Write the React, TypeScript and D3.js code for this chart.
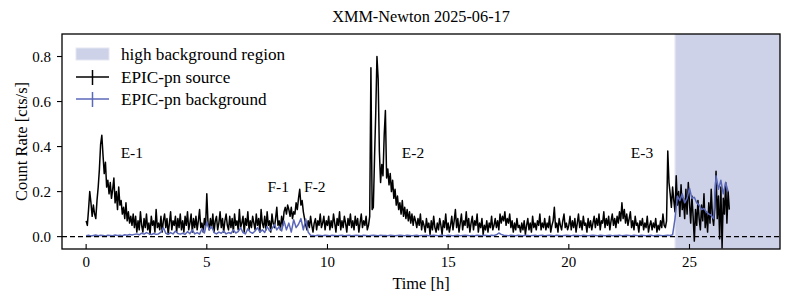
import React from 'react';
import * as d3 from 'd3';

// EPIC-pn source light curve, 0.05 h bins starting at t = 0 (one row per hour)
const sourceBinHours = 0.05;
const sourceRate = [
  0.07, 0.05, 0.12, 0.20, 0.15, 0.09, 0.14, 0.10, 0.08, 0.16, 0.22, 0.30, 0.41, 0.45, 0.36, 0.28, 0.33, 0.22, 0.25, 0.19,
  0.24, 0.17, 0.21, 0.26, 0.15, 0.20, 0.12, 0.22, 0.14, 0.16, 0.10, 0.13, 0.08, 0.15, 0.07, 0.11, 0.06, 0.09, 0.05, 0.10,
  0.04, 0.09, 0.02, 0.07, 0.03, 0.11, 0.05, 0.02, 0.08, 0.04, 0.10, 0.03, 0.06, 0.01, 0.09, 0.05, 0.07, 0.02, 0.12, 0.04,
  0.06, 0.03, 0.09, 0.02, 0.07, 0.10, 0.04, 0.08, 0.01, 0.06, 0.11, 0.03, 0.07, 0.05, 0.09, 0.02, 0.08, 0.04, 0.10, 0.03,
  0.07, 0.02, 0.09, 0.05, 0.11, 0.03, 0.06, 0.10, 0.02, 0.08, 0.04, 0.09, 0.03, 0.07, 0.12, 0.04, 0.06, 0.02, 0.08, 0.05,
  0.19, 0.06, 0.03, 0.08, 0.04, 0.10, 0.02, 0.07, 0.09, 0.03, 0.06, 0.11, 0.04, 0.08, 0.02, 0.07, 0.10, 0.05, 0.03, 0.09,
  0.04, 0.08, 0.02, 0.10, 0.05, 0.07, 0.03, 0.12, 0.04, 0.06, 0.09, 0.02, 0.08, 0.05, 0.11, 0.03, 0.07, 0.04, 0.09, 0.06,
  0.03, 0.10, 0.05, 0.08, 0.02, 0.12, 0.06, 0.04, 0.09, 0.03, 0.11, 0.05, 0.07, 0.02, 0.10, 0.06, 0.04, 0.08, 0.13, 0.05,
  0.07, 0.03, 0.09, 0.05, 0.11, 0.13, 0.10, 0.14, 0.12, 0.09, 0.13, 0.08, 0.11, 0.10, 0.15, 0.12, 0.17, 0.21, 0.14, 0.16,
  0.11, 0.08, 0.05, 0.03, 0.07, 0.04, 0.09, 0.05, 0.02, 0.06, 0.08, 0.03, 0.07, 0.05, 0.10, 0.04, 0.06, 0.09, 0.03, 0.07,
  0.05, 0.09, 0.03, 0.07, 0.04, 0.10, 0.06, 0.02, 0.08, 0.05, 0.11, 0.03, 0.07, 0.04, 0.09, 0.06, 0.02, 0.08, 0.05, 0.10,
  0.04, 0.07, 0.03, 0.09, 0.05, 0.08, 0.02, 0.06, 0.10, 0.04, 0.07, 0.05, 0.09, 0.03, 0.05, 0.09, 0.75, 0.12, 0.13, 0.35,
  0.55, 0.80, 0.70, 0.38, 0.24, 0.32, 0.27, 0.45, 0.56, 0.26, 0.30, 0.23, 0.28, 0.20, 0.25, 0.17, 0.21, 0.14, 0.18, 0.12,
  0.15, 0.10, 0.16, 0.09, 0.13, 0.08, 0.12, 0.07, 0.11, 0.06, 0.10, 0.05, 0.09, 0.07, 0.04, 0.08, 0.05, 0.10, 0.03, 0.07,
  0.05, 0.02, 0.08, 0.04, 0.06, 0.01, 0.07, 0.03, 0.09, 0.04, 0.02, 0.06, 0.03, 0.08, 0.05, 0.01, 0.07, 0.04, 0.10, 0.03,
  0.06, 0.02, 0.05, 0.09, 0.03, 0.07, 0.12, 0.04, 0.08, 0.02, 0.06, 0.10, 0.03, 0.07, 0.05, 0.11, 0.04, 0.08, 0.02, 0.06,
  0.09, 0.03, 0.07, 0.05, 0.10, 0.02, 0.06, 0.04, 0.08, 0.01, 0.05, 0.03, 0.07, 0.02, 0.06, 0.04, 0.09, 0.03, 0.05, 0.08,
  0.04, 0.07, 0.03, 0.10, 0.06, 0.09, 0.07, 0.11, 0.05, 0.08, 0.06, 0.10, 0.04, 0.07, 0.02, 0.06, 0.03, 0.08, 0.04, 0.05,
  0.02, 0.06, 0.03, 0.07, 0.01, 0.05, 0.08, 0.03, 0.06, 0.02, 0.09, 0.04, 0.06, 0.03, 0.07, 0.05, 0.10, 0.03, 0.06, 0.04,
  0.08, 0.03, 0.06, 0.04, 0.09, 0.02, 0.05, 0.07, 0.13, 0.04, 0.06, 0.02, 0.08, 0.05, 0.03, 0.07, 0.10, 0.04, 0.06, 0.03,
  0.05, 0.09, 0.03, 0.07, 0.04, 0.08, 0.02, 0.06, 0.10, 0.04, 0.07, 0.03, 0.09, 0.05, 0.06, 0.02, 0.08, 0.04, 0.07, 0.03,
  0.06, 0.09, 0.04, 0.08, 0.05, 0.10, 0.03, 0.07, 0.06, 0.11, 0.04, 0.08, 0.05, 0.09, 0.03, 0.07, 0.10, 0.05, 0.08, 0.04,
  0.09, 0.06, 0.11, 0.07, 0.15, 0.08, 0.12, 0.06, 0.10, 0.05, 0.08, 0.11, 0.04, 0.07, 0.03, 0.09, 0.05, 0.06, 0.02, 0.07,
  0.05, 0.08, 0.03, 0.06, 0.04, 0.09, 0.02, 0.05, 0.07, 0.03, 0.06, 0.04, 0.08, 0.02, 0.05, 0.03, 0.07, 0.04, 0.10, 0.05,
  0.04, 0.07, 0.38, 0.24, 0.19, 0.13, 0.22, 0.16, 0.11, 0.27, 0.14, 0.20, 0.09, 0.23, 0.12, 0.17, 0.08, 0.21, 0.10, 0.24,
  0.15, 0.06, 0.18, 0.09, -0.02, 0.12, 0.05, 0.16, 0.08, 0.03, 0.14, 0.07, 0.19, 0.04, 0.11, 0.02, 0.15, 0.06, 0.21, 0.09,
  0.05, 0.13, 0.29, 0.08, 0.18, -0.01, 0.22, -0.05, 0.17, 0.10, 0.24, 0.06, 0.20, 0.12,
];

// EPIC-pn background light curve, 0.1 h bins starting at t = 0
const backgroundBinHours = 0.1;
const backgroundRate = [
  0.004, 0.006, 0.003, 0.005, 0.007, 0.004, 0.006, 0.005, 0.003, 0.006,
  0.005, 0.004, 0.007, 0.005, 0.006, 0.004, 0.008, 0.006, 0.009, 0.007,
  0.010, 0.012, 0.008, 0.015, 0.011, 0.018, 0.013, 0.009, 0.014, 0.010,
  0.012, 0.020, 0.040, 0.015, 0.010, 0.018, 0.012, 0.025, 0.014, 0.011,
  0.015, 0.010, 0.022, 0.013, 0.030, 0.012, 0.018, 0.011, 0.035, 0.016,
  0.065, 0.030, 0.045, 0.018, 0.012, 0.020, 0.015, 0.025, 0.012, 0.018,
  0.014, 0.030, 0.016, 0.022, 0.040, 0.018, 0.012, 0.035, 0.020, 0.015,
  0.025, 0.040, 0.020, 0.030, 0.018, 0.045, 0.025, 0.035, 0.055, 0.030,
  0.045, 0.025, 0.070, 0.030, 0.060, 0.020, 0.075, 0.040, 0.055, 0.080,
  0.030, 0.078, 0.020, 0.006, 0.005, 0.004, 0.006, 0.005, 0.004, 0.006,
  0.005, 0.004, 0.006, 0.005, 0.004, 0.005, 0.006, 0.004, 0.005, 0.006,
  0.004, 0.005, 0.006, 0.005, 0.004, 0.006, 0.005, 0.004, 0.005, 0.006,
  0.005, 0.004, 0.006, 0.005, 0.005, 0.004, 0.006, 0.005, 0.004, 0.005,
  0.006, 0.005, 0.004, 0.006, 0.005, 0.004, 0.005, 0.006, 0.004, 0.005,
  0.005, 0.006, 0.004, 0.005, 0.006, 0.005, 0.004, 0.006, 0.005, 0.004,
  0.006, 0.005, 0.004, 0.005, 0.006, 0.004, 0.005, 0.006, 0.005, 0.004,
  0.005, 0.004, 0.006, 0.005, 0.004, 0.006, 0.005, 0.004, 0.006, 0.005,
  0.008, 0.016, 0.010, 0.006, 0.005, 0.004, 0.006, 0.005, 0.004, 0.006,
  0.005, 0.004, 0.006, 0.005, 0.004, 0.005, 0.006, 0.004, 0.005, 0.006,
  0.004, 0.005, 0.006, 0.005, 0.004, 0.006, 0.005, 0.004, 0.005, 0.006,
  0.005, 0.004, 0.006, 0.005, 0.005, 0.004, 0.006, 0.005, 0.004, 0.005,
  0.006, 0.005, 0.004, 0.006, 0.005, 0.004, 0.005, 0.006, 0.004, 0.005,
  0.005, 0.006, 0.004, 0.005, 0.006, 0.005, 0.004, 0.006, 0.005, 0.004,
  0.006, 0.005, 0.004, 0.005, 0.006, 0.004, 0.005, 0.006, 0.005, 0.004,
  0.005, 0.006, 0.005, 0.008, 0.080, 0.180, 0.160, 0.190, 0.150, 0.170,
  0.215, 0.170, 0.175, 0.150, 0.140, 0.120, 0.125, 0.110, 0.100, 0.095,
  0.080, 0.270, 0.210, 0.250, 0.190, 0.240, 0.200,
];

const highBackgroundStart = 24.4;
const xTicks = [0, 5, 10, 15, 20, 25];
const yTicks = [0.0, 0.2, 0.4, 0.6, 0.8];
const flareLabels = [
  { text: 'E-1', t: 1.43, rate: 0.35 },
  { text: 'F-1', t: 7.51, rate: 0.2 },
  { text: 'F-2', t: 9.03, rate: 0.2 },
  { text: 'E-2', t: 13.08, rate: 0.35 },
  { text: 'E-3', t: 22.57, rate: 0.35 },
];

const WIDTH = 792;
const HEIGHT = 306;
const margin = { left: 62, right: 12, top: 34, bottom: 57 };
const FONT = '"Liberation Serif", "Times New Roman", serif';
const BLUE = '#5b68b8';

const App: React.FC = () => {
  const x = d3.scaleLinear().domain([-1.0, 28.75]).range([margin.left, WIDTH - margin.right]);
  const y = d3.scaleLinear().domain([-0.055, 0.9]).range([HEIGHT - margin.bottom, margin.top]);

  const source = sourceRate.map((v, i) => [i * sourceBinHours, v] as [number, number]);
  const background = backgroundRate.map((v, i) => [i * backgroundBinHours, v] as [number, number]);

  const line = d3.line<[number, number]>()
    .x(d => x(d[0]))
    .y(d => y(d[1]));

  const [x0, x1] = x.range();
  const [yb, yt] = y.range();

  return (
    <div style={{ position: 'absolute', left: 0, top: 0 }}>
      <svg width={WIDTH} height={HEIGHT} style={{ display: 'block', fontFamily: FONT }}>
        <rect width={WIDTH} height={HEIGHT} fill="#fff" />
        <defs>
          <clipPath id="plot-area">
            <rect x={x0} y={yt} width={x1 - x0} height={yb - yt} />
          </clipPath>
        </defs>

        {/* high background shading */}
        <rect
          x={x(highBackgroundStart)}
          y={yt}
          width={x1 - x(highBackgroundStart)}
          height={yb - yt}
          fill="#cdd2e8"
        />
        <line x1={x(highBackgroundStart)} x2={x(highBackgroundStart)} y1={yt} y2={yb} stroke="#e4e7f3" strokeWidth={1.2} />

        <g clipPath="url(#plot-area)">
          <path d={line(source) || ''} fill="none" stroke="#000" strokeWidth={1.5} strokeLinejoin="round" />
          <path d={line(background) || ''} fill="none" stroke={BLUE} strokeWidth={1.5} strokeLinejoin="round" />
          <line x1={x0} x2={x1} y1={y(0)} y2={y(0)} stroke="#000" strokeWidth={1.3} strokeDasharray="5,3" />
        </g>

        {flareLabels.map(l => (
          <text key={l.text} x={x(l.t)} y={y(l.rate)} fontSize={15.5} fill="#000">{l.text}</text>
        ))}

        {/* axes frame */}
        <rect x={x0} y={yt} width={x1 - x0} height={yb - yt} fill="none" stroke="#000" strokeWidth={1.3} />

        {xTicks.map(t => (
          <g key={t}>
            <line x1={x(t)} x2={x(t)} y1={yb} y2={yb - 5} stroke="#000" strokeWidth={1.1} />
            <text x={x(t)} y={yb + 18} fontSize={15} textAnchor="middle">{t}</text>
          </g>
        ))}
        {yTicks.map(v => (
          <g key={v}>
            <line x1={x0} x2={x0 - 5} y1={y(v)} y2={y(v)} stroke="#000" strokeWidth={1.1} />
            <text x={x0 - 11} y={y(v) + 5} fontSize={15} textAnchor="end">{v.toFixed(1)}</text>
          </g>
        ))}

        <text x={(x0 + x1) / 2} y={HEIGHT - 17} fontSize={16.4} textAnchor="middle">Time [h]</text>
        <text
          transform={`translate(27,${(yt + yb) / 2}) rotate(-90)`}
          fontSize={16.5}
          textAnchor="middle"
        >
          Count Rate [cts/s]
        </text>
        <text x={(x0 + x1) / 2} y={22} fontSize={16.3} textAnchor="middle">XMM-Newton 2025-06-17</text>

        {/* legend */}
        <g>
          <rect x={76} y={48} width={33} height={12} fill="#cdd2e8" stroke="#e4e7f3" strokeWidth={1} />
          <text x={121} y={60} fontSize={17.2}>high background region</text>
          <line x1={76} x2={109} y1={77} y2={77} stroke="#000" strokeWidth={1.5} />
          <line x1={92.5} x2={92.5} y1={70} y2={85} stroke="#000" strokeWidth={1.5} />
          <text x={121} y={82.5} fontSize={17.2}>EPIC-pn source</text>
          <line x1={76} x2={109} y1={99} y2={99} stroke={BLUE} strokeWidth={1.5} />
          <line x1={92.5} x2={92.5} y1={92} y2={107} stroke={BLUE} strokeWidth={1.5} />
          <text x={121} y={104.5} fontSize={17.2}>EPIC-pn background</text>
        </g>
      </svg>
    </div>
  );
};

export default App;
